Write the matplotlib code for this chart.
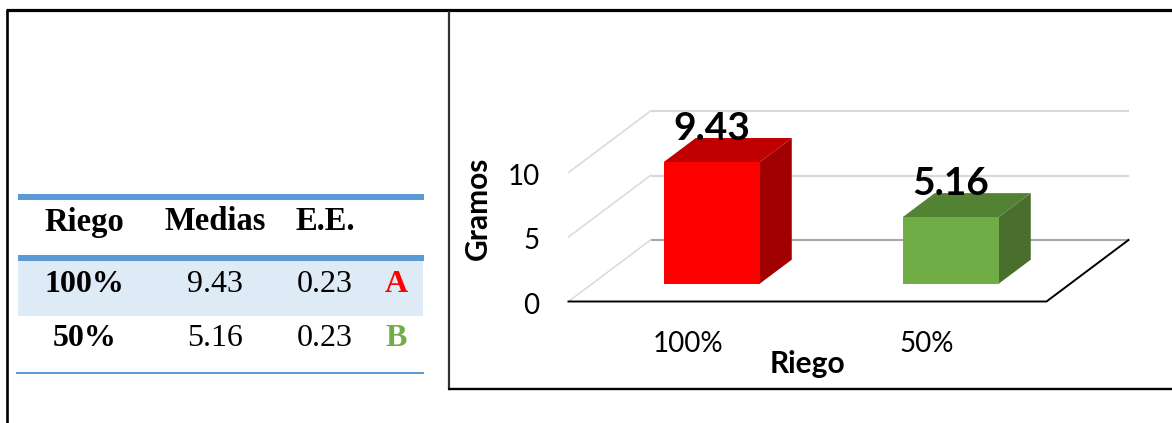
import matplotlib
matplotlib.use("Agg")
import matplotlib.pyplot as plt
from matplotlib.patches import Polygon, Rectangle

W, H = 1172, 423

# summary table
tableHeaders = ["Riego", "Medias", "E.E."]
treatments = ["100%", "50%"]
means = [9.43, 5.16]
stdErrors = [0.23, 0.23]
groupLetters = ["A", "B"]

# chart
yTicks = [0, 5, 10]
xTitle = "Riego"
yTitle = "Gramos"

BLUE = "#5B9BD5"
BAND = "#DEEAF6"
FRONT = ["#FF0000", "#70AD47"]
TOP = ["#C00000", "#548235"]
SIDE = ["#A00000", "#4A6F2C"]
LETTER = ["#FF0000", "#70AD47"]

PX_PER_CAT = 239.0
PX_PER_VAL = 12.9
X0, Y0 = 688.0, 301.5         # floor front edge, first category, value 0
DEPTH_X = 82.0 / PX_PER_CAT   # full depth of the floor in data units
DEPTH_Y = 61.5 / PX_PER_VAL
BAR_W = 96.0 / PX_PER_CAT
BAR_D0, BAR_D1 = 0.29, 0.68   # bar front and back as fraction of the depth


def proj(x, v, d=0.0):
    return (x + d * DEPTH_X, v + d * DEPTH_Y)


fig = plt.figure(figsize=(W / 100, H / 100), dpi=100)

# pixel axes for the table and frames
tb = fig.add_axes([0, 0, 1, 1])
tb.set_xlim(0, W)
tb.set_ylim(H, 0)
tb.axis("off")

# chart axes, one unit per category and per gram
ax = fig.add_axes([0, 0, 1, 1], facecolor="none")
ax.set_xlim((0 - X0) / PX_PER_CAT, (W - X0) / PX_PER_CAT)
ax.set_ylim((Y0 - H) / PX_PER_VAL, Y0 / PX_PER_VAL)
ax.axis("off")

# frames
tb.plot([7, 7], [423, 10], color="black", lw=1.9, solid_capstyle="butt")
tb.plot([6, 1172], [10.5, 10.5], color="black", lw=2.3, solid_capstyle="butt")
tb.plot([449, 449], [11, 390], color="#333333", lw=1.6, solid_capstyle="butt")
tb.plot([448, 1172], [389, 389], color="black", lw=1.7, solid_capstyle="butt")

# table rules and shaded row
tb.add_patch(Rectangle((18, 261.5), 405, 55, color=BAND, lw=0))
tb.add_patch(Rectangle((18, 194), 406, 6, color=BLUE, lw=0))
tb.add_patch(Rectangle((18, 255), 406, 6, color=BLUE, lw=0))
tb.add_patch(Rectangle((16, 372), 408, 2, color=BLUE, lw=0))

serif = "Liberation Serif"
colX = [84.5, 215.5, 325]
for x, s in zip(colX, tableHeaders):
    tb.text(x, 230.5, s, family=serif, weight="bold", fontsize=23.5, ha="center", va="baseline")
rowY = [292, 346]
for i, y in enumerate(rowY):
    tb.text(colX[0], y, treatments[i], family=serif, weight="bold", fontsize=23, ha="center", va="baseline")
    tb.text(colX[1], y, f"{means[i]:.2f}", family=serif, fontsize=23, ha="center", va="baseline")
    tb.text(colX[2], y, f"{stdErrors[i]:.2f}", family=serif, fontsize=23, ha="center", va="baseline")
    tb.text(396.5, y, groupLetters[i], family=serif, weight="bold", fontsize=23,
            color=LETTER[i], ha="center", va="baseline")

# gridlines on the back and side walls
for t in yTicks:
    col = "#A6A6A6" if t == 0 else "#D9D9D9"
    ax.plot(*zip(proj(-0.5, t, 1), proj(1.5, t, 1)), color=col, lw=1.5, zorder=1, solid_capstyle="butt")
    ax.plot(*zip(proj(-0.5, t, 0), proj(-0.5, t, 1)), color="#D9D9D9", lw=1.1, zorder=1)

# floor edges
fx = [proj(-0.5, 0, 0), proj(1.5, 0, 0), proj(1.5, 0, 1)]
ax.plot(*zip(*fx), color="black", lw=1.4, zorder=2, solid_joinstyle="miter")

# bars as three visible faces
for i, v in enumerate(means):
    l, r = i - BAR_W / 2, i + BAR_W / 2
    front = [proj(l, 0, BAR_D0), proj(r, 0, BAR_D0), proj(r, v, BAR_D0), proj(l, v, BAR_D0)]
    side = [proj(r, 0, BAR_D0), proj(r, 0, BAR_D1), proj(r, v, BAR_D1), proj(r, v, BAR_D0)]
    top = [proj(l, v, BAR_D0), proj(r, v, BAR_D0), proj(r, v, BAR_D1), proj(l, v, BAR_D1)]
    ax.add_patch(Polygon(side, color=SIDE[i], lw=0, zorder=3))
    ax.add_patch(Polygon(top, color=TOP[i], lw=0, zorder=3))
    ax.add_patch(Polygon(front, color=FRONT[i], lw=0, zorder=4))
    lx, ly = proj(i, v, BAR_D0)
    ax.text(lx, ly + 1.7, f"{v:.2f}", family="Lato", weight="bold", fontsize=28,
            ha="center", va="baseline", zorder=5)

# axis labels
for t in yTicks:
    ax.text(-0.5 - 29 / PX_PER_CAT, t - 0.95, str(t), family="Lato", fontsize=20,
            ha="right", va="baseline")
for i, s in enumerate(treatments):
    ax.text(i, -3.9, s, family="Lato", fontsize=20, ha="center", va="baseline")

tb.text(807.5, 373, xTitle, family="Lato", weight="bold", fontsize=21.5, ha="center", va="baseline")
tb.text(477.5, 208, yTitle, family="Lato", weight="bold", fontsize=21.5, rotation=90, ha="center", va="center")

fig.savefig("out.png", dpi=100)
